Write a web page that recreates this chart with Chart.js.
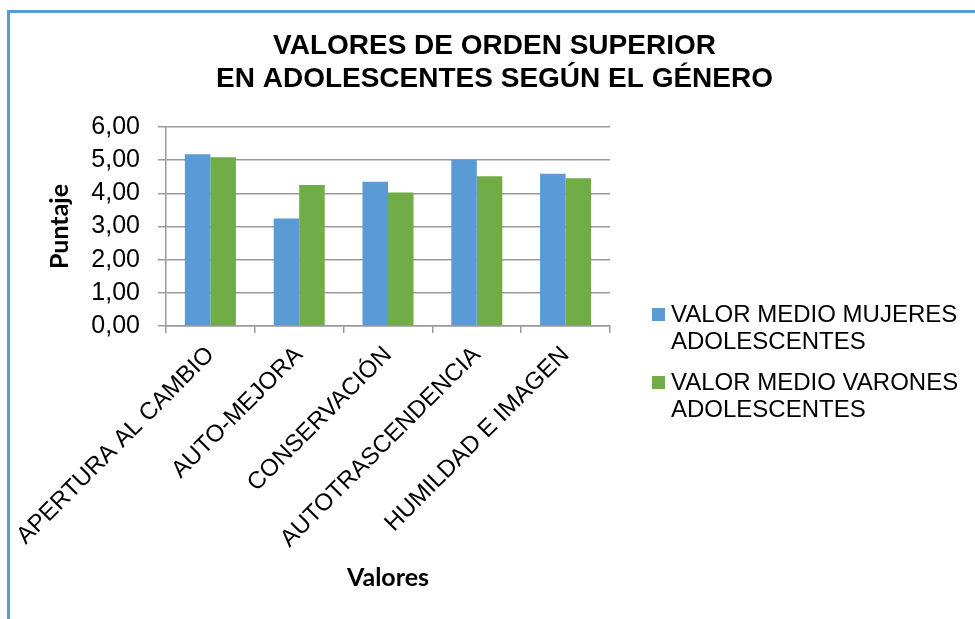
<!DOCTYPE html>
<html>
<head>
<meta charset="utf-8">
<title>Valores de orden superior</title>
<script src="https://cdn.jsdelivr.net/npm/chart.js@4/dist/chart.umd.min.js"></script>
<style>
  html, body { margin: 0; padding: 0; background: #fff; overflow: hidden; }
  #wrap { position: relative; width: 975px; height: 619px; }
  #marco { position: absolute; left: 7px; top: 10px; width: 1000px; height: 700px;
           border-left: 3px solid #5b9bd5; border-top: 3px solid #5b9bd5; }
  #valoresChart { position: absolute; left: 0; top: 0; }
</style>
</head>
<body>
<div id="wrap">
  <div id="marco"></div>
  <canvas id="valoresChart" width="975" height="619"></canvas>
</div>
<script>
// datos
const categorias = ['APERTURA AL CAMBIO', 'AUTO-MEJORA', 'CONSERVACIÓN', 'AUTOTRASCENDENCIA', 'HUMILDAD E IMAGEN'];
const mediaMujeres = [5.18, 3.24, 4.35, 5.01, 4.59];
const mediaVarones = [5.09, 4.25, 4.03, 4.52, 4.46];
const nombreMujeres = ['VALOR MEDIO MUJERES', 'ADOLESCENTES'];
const nombreVarones = ['VALOR MEDIO VARONES', 'ADOLESCENTES'];
const titulo = ['VALORES DE ORDEN SUPERIOR', 'EN ADOLESCENTES SEGÚN EL GÉNERO'];
const ejeY = { min: 0, max: 6, paso: 1 };

const fuenteArial = '"Liberation Sans", Arial, sans-serif';
const fuenteEje = 'Lato, "Open Sans", sans-serif';

// caja a la derecha (reserva el sitio) y leyenda en dos lineas
const leyendaDerecha = {
    id: 'leyendaDerecha',
    start(chart) {
        const caja = {
            position: 'right',
            weight: 1000,
            fullSize: false,
            options: {},
            isHorizontal() { return false; },
            update(maxWidth, maxHeight) {
                this.width = 365;
                this.height = maxHeight;
            },
            getPadding() { return { top: 0, left: 0, right: 0, bottom: 0 }; },
            draw() {}
        };
        Chart.layouts.addBox(chart, caja);
    },
    afterDraw(chart) {
        const c = chart.ctx;
        const x = chart.chartArea.right + 42;
        let y = 315;
        c.save();
        c.font = '24px ' + fuenteArial;
        c.textBaseline = 'middle';
        c.textAlign = 'left';
        chart.data.datasets.forEach(ds => {
            c.fillStyle = ds.backgroundColor;
            c.fillRect(x, y - 7, 13, 13);
            c.fillStyle = '#000';
            ds.label.forEach((linea, i) => c.fillText(linea, x + 19, y + i * 27));
            y += ds.label.length * 27 + 14;
        });
        c.restore();
    }
};

const ctxValores = document.getElementById('valoresChart');

const dataValores = {
    labels: categorias,
    datasets: [{
        label: nombreMujeres,
        backgroundColor: '#5b9bd5',
        data: mediaMujeres,
    }, {
        label: nombreVarones,
        backgroundColor: '#70ad47',
        data: mediaVarones,
    }]
};

const configValores = {
    type: 'bar',
    data: dataValores,
    plugins: [leyendaDerecha],
    options: {
        responsive: false,
        animation: false,
        categoryPercentage: 0.575,
        barPercentage: 1,
        layout: {
            padding: { left: 14, right: 0, top: 0, bottom: 0 }
        },
        plugins: {
            legend: { display: false },
            tooltip: { enabled: false },
            title: {
                display: true,
                text: titulo,
                color: '#000',
                font: { family: fuenteArial, size: 28, weight: 'bold', lineHeight: 1.18 },
                padding: { top: 30, bottom: 31 }
            }
        },
        scales: {
            x: {
                grid: {
                    drawOnChartArea: false,
                    drawTicks: true,
                    tickLength: 7,
                    color: '#9a9a9a',
                    lineWidth: 1.5
                },
                border: { color: '#9a9a9a', width: 1.5 },
                ticks: {
                    autoSkip: false,
                    minRotation: 45,
                    maxRotation: 45,
                    padding: 8,
                    color: '#000',
                    font: { family: fuenteArial, size: 24 }
                },
                title: {
                    display: true,
                    text: 'Valores',
                    color: '#000',
                    font: { family: fuenteEje, size: 25, weight: 'bold', lineHeight: 1.2 },
                    padding: { top: 0, bottom: 26 }
                },
                afterFit(scale) {
                    scale.height = 293;
                    scale.paddingLeft = 0;
                    scale.paddingRight = 0;
                }
            },
            y: {
                min: ejeY.min,
                max: ejeY.max,
                ticks: {
                    stepSize: ejeY.paso,
                    padding: 18,
                    color: '#000',
                    font: { family: fuenteArial, size: 25 },
                    callback: v => v.toFixed(2).replace('.', ',')
                },
                grid: {
                    color: '#9a9a9a',
                    lineWidth: 1.5,
                    tickLength: 8
                },
                border: { color: '#9a9a9a', width: 1.5 },
                title: {
                    display: true,
                    text: 'Puntaje',
                    color: '#000',
                    font: { family: fuenteEje, size: 25, weight: 'bold', lineHeight: 1.2 },
                    padding: { top: 31, bottom: 0 }
                },
                afterFit(scale) {
                    scale.width = 152;
                }
            }
        }
    }
};

const barChartValores = new Chart(
    ctxValores,
    configValores
);
</script>
</body>
</html>
